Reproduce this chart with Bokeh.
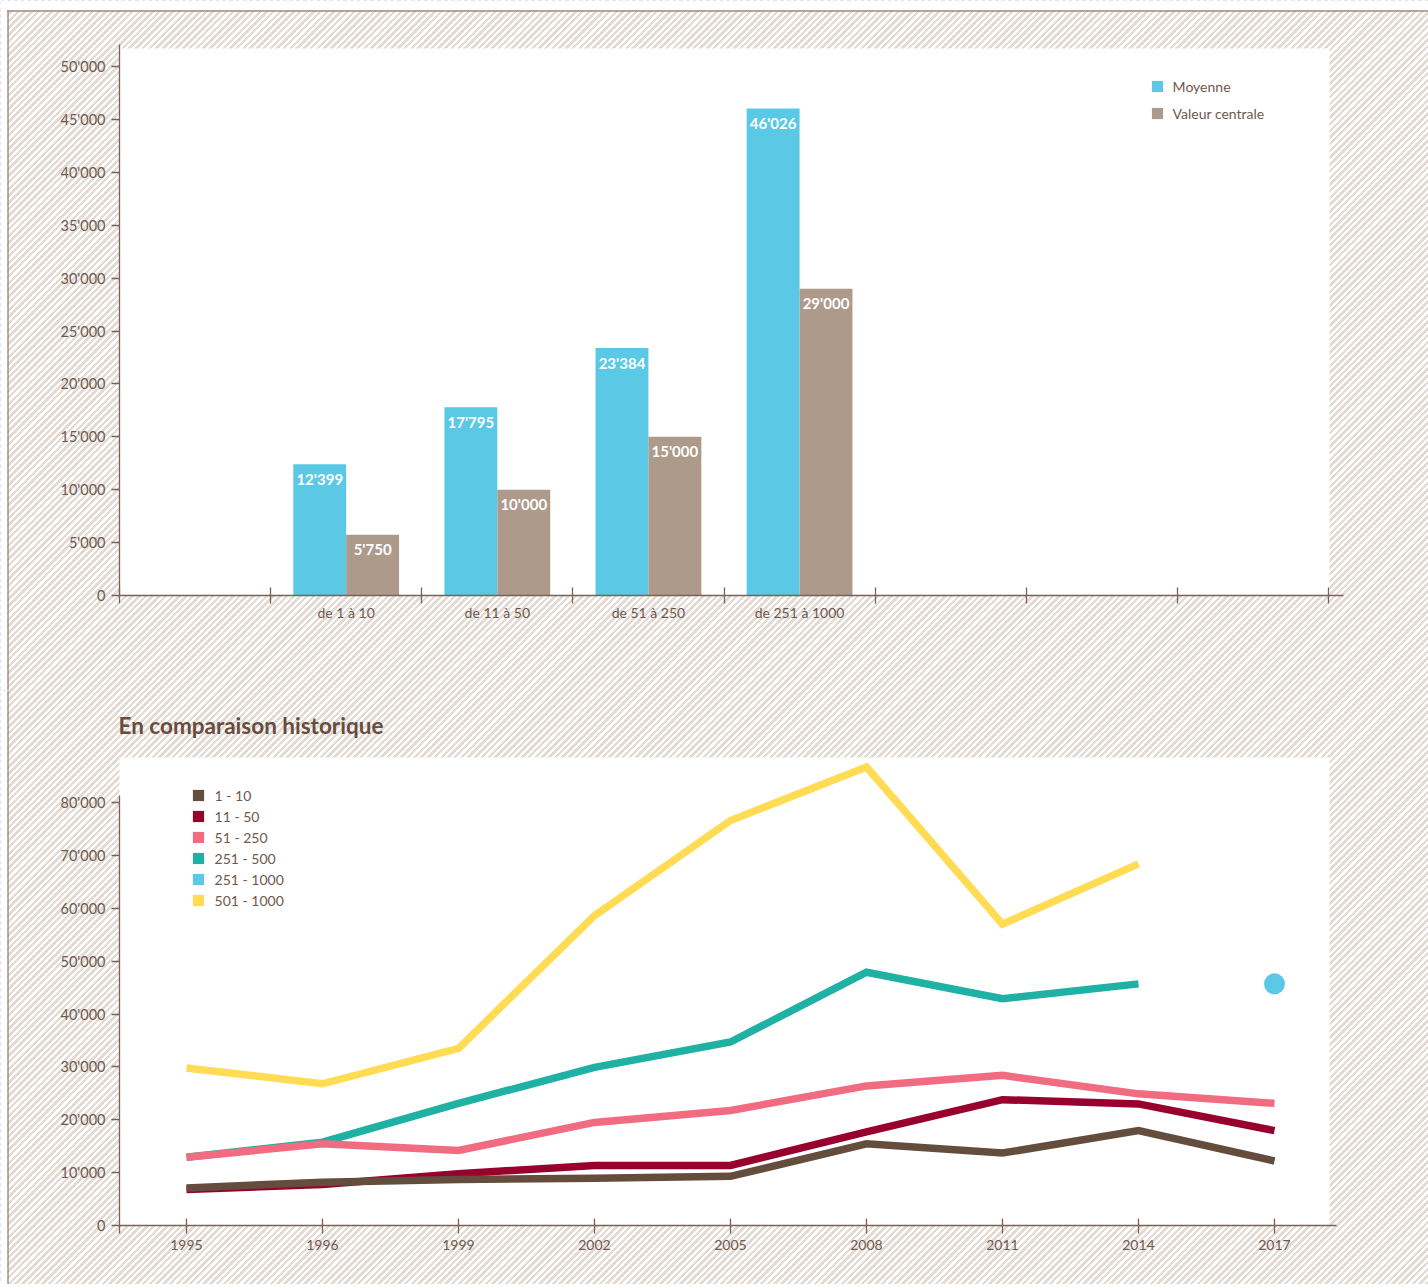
import numpy as np
from bokeh.plotting import figure
from bokeh.models import (LinearAxis, FixedTicker, BoxAnnotation, Span, Legend,
                          LegendItem, Label, ColumnDataSource, Range1d)
from bokeh.layouts import column
from bokeh.embed import file_html
from bokeh.resources import INLINE
from bokeh.core.properties import value

# ---------------- data: top chart ----------------
size_classes = ["de 1 à 10", "de 11 à 50", "de 51 à 250", "de 251 à 1000"]
moyenne = [12399, 17795, 23384, 46026]
valeur_centrale = [5750, 10000, 15000, 29000]
moyenne_labels = ["12'399", "17'795", "23'384", "46'026"]
centrale_labels = ["5'750", "10'000", "15'000", "29'000"]
top_y_ticks = [0, 5000, 10000, 15000, 20000, 25000, 30000, 35000, 40000, 45000, 50000]
top_y_tick_labels = ["0", "5'000", "10'000", "15'000", "20'000", "25'000",
                     "30'000", "35'000", "40'000", "45'000", "50'000"]

# ---------------- data: bottom chart ----------------
years = ["1995", "1996", "1999", "2002", "2005", "2008", "2011", "2014", "2017"]
s_1_10 = [7100, 8200, 8700, 8950, 9300, 15450, 13700, 17950, 12200]
s_11_50 = [6800, 7750, 9800, 11350, 11350, 17700, 23800, 23000, 17950]
s_51_250 = [12900, 15450, 14200, 19500, 21750, 26400, 28400, 24900, 23100]
s_251_500 = [12900, 15750, 23100, 29900, 34700, 47900, 42900, 45700, None]
s_251_1000 = [None, None, None, None, None, None, None, None, 45700]
s_501_1000 = [29800, 26800, 33500, 58600, 76600, 86700, 57000, 68400, None]
bottom_y_ticks = [0, 10000, 20000, 30000, 40000, 50000, 60000, 70000, 80000]
bottom_y_tick_labels = ["0", "10'000", "20'000", "30'000", "40'000", "50'000",
                        "60'000", "70'000", "80'000"]
series_names = ["1 - 10", "11 - 50", "51 - 250", "251 - 500", "251 - 1000", "501 - 1000"]

# ---------------- styles ----------------
FONT = "Lato"
TEXT = "#70584d"
TITLE = "#684c3e"
AXIS = "#7a6158"
BORDER = "#a08c82"
BLUE = "#5bc9e5"
TAUPE = "#ae9a8b"
C_BROWN = "#654d3d"
C_RED = "#98002e"
C_PINK = "#f16b81"
C_TEAL = "#1fb1a4"
C_CYAN = "#5bc9e5"
C_YELLOW = "#ffdc53"

W = 1428
H1 = 690
H2 = 594
PX0 = 0            # page x of figure left
P1Y0 = 0           # page y of top figure
P2Y0 = P1Y0 + H1   # page y of bottom figure

# ---------------- top chart geometry ----------------
T_X0, T_UNIT = 119.0, 151.125      # page x of slot 0, px per slot
T_Y0, T_PX = 595.0, 10.58 / 1000   # page y of value 0, px per unit value
FIRST_SLOT = 1
N_SLOTS = 8


def tx(px):
    return (px - T_X0) / T_UNIT


def ty(py):
    return (T_Y0 - py) / T_PX


p1 = figure(width=W, height=H1, output_backend="svg", toolbar_location=None,
            x_range=Range1d(tx(PX0), tx(PX0 + W)), y_range=Range1d(ty(P1Y0 + H1), ty(P1Y0)),
            x_axis_location=None, y_axis_location=None, min_border=0,
            background_fill_color=None, border_fill_color=None, outline_line_color=None)
p1.grid.visible = False

p1.add_layout(BoxAnnotation(left=0, right=tx(1329), bottom=0, top=ty(48), fill_color="white",
                            fill_alpha=1, line_color=None, level="underlay"))
p1.add_layout(Span(location=ty(10.5), dimension="width", line_color=BORDER, line_width=1.5))
p1.add_layout(Span(location=tx(7.5), dimension="height", line_color=BORDER, line_width=1.5))
# white page margin above / left of the frame line (drawn over the line ends)
for box in (dict(bottom=ty(9.6)), dict(right=tx(6.6))):
    p1.add_layout(BoxAnnotation(**box, fill_color="white", fill_alpha=1,
                                line_color=None, level="annotation"))

centers = [FIRST_SLOT + i + 0.5 for i in range(len(size_classes))]
src1 = ColumnDataSource(dict(
    xm=[c - 0.175 for c in centers], xc=[c + 0.175 for c in centers],
    moyenne=moyenne, centrale=valeur_centrale,
    mlab=moyenne_labels, clab=centrale_labels))

r_m = p1.vbar(x="xm", top="moyenne", width=0.35, source=src1, fill_color=BLUE, line_color=None)
r_c = p1.vbar(x="xc", top="centrale", width=0.35, source=src1, fill_color=TAUPE, line_color=None)
for xcol, ycol, lcol in (("xm", "moyenne", "mlab"), ("xc", "centrale", "clab")):
    p1.text(x=xcol, y=ycol, text=lcol, source=src1, text_align="center", text_baseline="middle",
            y_offset=14.5, text_color="white", text_font=value(FONT), text_font_style="bold",
            text_font_size="15px")

xax1 = LinearAxis(fixed_location=0, ticker=FixedTicker(ticks=list(range(N_SLOTS + 1))),
                  bounds=(0, tx(1343)), major_tick_in=8, major_tick_out=8,
                  major_label_text_color=None, minor_tick_line_color=None,
                  axis_line_color=AXIS, major_tick_line_color=AXIS, axis_line_width=1.3,
                  major_tick_line_width=1.3)
p1.add_layout(xax1, "below")
xlab1 = LinearAxis(fixed_location=0, ticker=FixedTicker(ticks=centers),
                   major_label_overrides={c: s for c, s in zip(centers, size_classes)},
                   axis_line_color=None, major_tick_line_color=None, minor_tick_line_color=None,
                   major_tick_in=0, major_tick_out=0, major_label_standoff=8,
                   major_label_text_font=FONT, major_label_text_font_size="14px",
                   major_label_text_color=TEXT)
p1.add_layout(xlab1, "below")
yax1 = LinearAxis(fixed_location=0, ticker=FixedTicker(ticks=top_y_ticks),
                  major_label_overrides=dict(zip(top_y_ticks, top_y_tick_labels)),
                  bounds=(0, ty(44)), major_tick_in=0, major_tick_out=8, major_label_standoff=6,
                  minor_tick_line_color=None, axis_line_color=AXIS, major_tick_line_color=AXIS,
                  axis_line_width=1.3, major_tick_line_width=1.3,
                  major_label_text_font=FONT, major_label_text_font_size="14.5px",
                  major_label_text_color=TEXT)
p1.add_layout(yax1, "left")

leg1 = Legend(items=[LegendItem(label="Moyenne", renderers=[r_m]),
                     LegendItem(label="Valeur centrale", renderers=[r_c])],
              location=(1149.6 - PX0, (P1Y0 + H1) - 121.5), orientation="vertical",
              glyph_width=14, glyph_height=14, label_height=14, label_standoff=9, spacing=10,
              padding=0, margin=0, border_line_color=None, background_fill_alpha=0,
              label_text_font=FONT, label_text_font_size="14px", label_text_color=TEXT)
p1.add_layout(leg1)

# ---------------- bottom chart geometry ----------------
B_X0, B_UNIT = 186.0, 136.0
B_Y0, B_PX = 1225.0, 5.2875 / 1000


def bx(px):
    return (px - B_X0) / B_UNIT


def by(py):
    return (B_Y0 - py) / B_PX


p2 = figure(width=W, height=H2, output_backend="svg", toolbar_location=None,
            x_range=Range1d(bx(PX0), bx(PX0 + W)), y_range=Range1d(by(P2Y0 + H2), by(P2Y0)),
            x_axis_location=None, y_axis_location=None, min_border=0,
            background_fill_color=None, border_fill_color=None, outline_line_color=None)
p2.grid.visible = False
p2.add_layout(BoxAnnotation(left=bx(119), right=bx(1329), bottom=0, top=by(757),
                            fill_color="white", fill_alpha=1, line_color=None, level="underlay"))
p2.add_layout(Span(location=bx(7.5), dimension="height", line_color=BORDER, line_width=1.5))
p2.add_layout(BoxAnnotation(right=bx(6.6), fill_color="white", fill_alpha=1,
                            line_color=None, level="annotation"))

xi = list(range(len(years)))
series = [s_1_10, s_11_50, s_51_250, s_251_500, s_251_1000, s_501_1000]
colors = [C_BROWN, C_RED, C_PINK, C_TEAL, C_CYAN, C_YELLOW]
arr = [np.array([np.nan if v is None else v for v in s], dtype=float) for s in series]

# draw order: yellow, teal, red, brown, pink
for k in (5, 3, 1, 0, 2):
    p2.line(x=xi, y=arr[k], line_width=7.5, line_color=colors[k], line_join="miter")
p2.scatter(x=xi, y=arr[4], size=21, fill_color=C_CYAN, line_color=None)

legend_renderers = []
for k in range(len(series)):
    r = p2.vbar(x=xi, top=arr[k], width=0.01, fill_color=colors[k], line_color=None, visible=False)
    legend_renderers.append(r)

leg2 = Legend(items=[LegendItem(label=n, renderers=[r]) for n, r in zip(series_names, legend_renderers)],
              location=(190.6 - PX0, (P2Y0 + H2) - 908.5), orientation="vertical",
              glyph_width=14, glyph_height=14, label_height=14, label_standoff=10, spacing=4,
              padding=0, margin=0, border_line_color=None, background_fill_alpha=0,
              label_text_font=FONT, label_text_font_size="14px", label_text_color=TEXT)
p2.add_layout(leg2)

xax2 = LinearAxis(fixed_location=0, ticker=FixedTicker(ticks=xi),
                  major_label_overrides=dict(zip(xi, years)),
                  bounds=(bx(119), bx(1336)), major_tick_in=7, major_tick_out=8,
                  major_label_standoff=6, minor_tick_line_color=None,
                  axis_line_color=AXIS, major_tick_line_color=AXIS, axis_line_width=1.3,
                  major_tick_line_width=1.3,
                  major_label_text_font=FONT, major_label_text_font_size="14px",
                  major_label_text_color=TEXT)
p2.add_layout(xax2, "below")
yax2 = LinearAxis(fixed_location=bx(119), ticker=FixedTicker(ticks=bottom_y_ticks),
                  major_label_overrides=dict(zip(bottom_y_ticks, bottom_y_tick_labels)),
                  bounds=(by(1233), by(795)), major_tick_in=0, major_tick_out=8,
                  major_label_standoff=6, minor_tick_line_color=None,
                  axis_line_color=AXIS, major_tick_line_color=AXIS, axis_line_width=1.3,
                  major_tick_line_width=1.3,
                  major_label_text_font=FONT, major_label_text_font_size="14.5px",
                  major_label_text_color=TEXT)
p2.add_layout(yax2, "left")

p2.add_layout(Label(x=118 - PX0, y=(P2Y0 + H2) - 725, x_units="screen", y_units="screen",
                    text="En comparaison historique", text_font=FONT, text_font_style="bold",
                    text_font_size="22.5px", text_color=TITLE, text_baseline="middle"))

page = column(p1, p2, styles={
    "background-color": "#ffffff",
    "background-image": "repeating-linear-gradient(-45deg, #e3dbd3 0px, #e3dbd3 2.5px, "
                        "#ffffff 2.5px, #ffffff 4.75px)"})

open("out.html", "w").write(file_html(page, INLINE))
